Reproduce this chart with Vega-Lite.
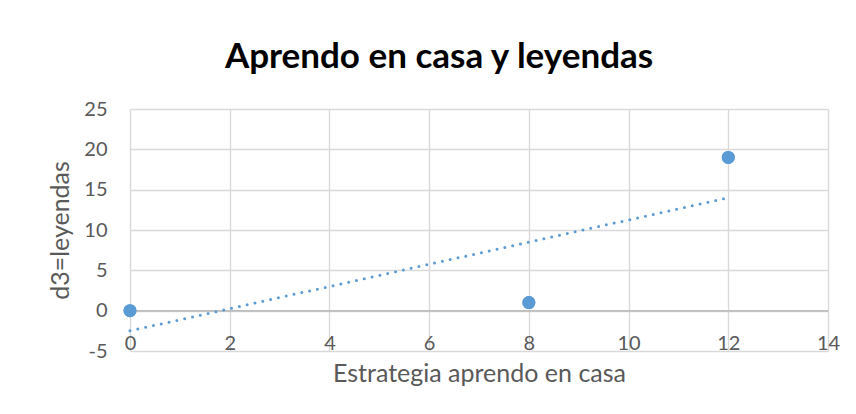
{
  "$schema": "https://vega.github.io/schema/vega-lite/v6.json",
  "width": 698,
  "height": 242,
  "autosize": {"type": "none"},
  "padding": {"left": 130, "top": 109, "right": 28, "bottom": 63},
  "background": "white",
  "config": {"view": {"stroke": null}},
  "title": {
    "text": "Aprendo en casa y leyendas",
    "font": "Lato",
    "fontSize": 35,
    "fontWeight": "bold",
    "color": "#000000",
    "anchor": "middle",
    "frame": "group",
    "dx": -40,
    "offset": -4,
    "baseline": "alphabetic"
  },
  "data": {
    "values": [
      {"estrategia": 0, "leyendas": 0},
      {"estrategia": 8, "leyendas": 1},
      {"estrategia": 12, "leyendas": 19}
    ]
  },
  "layer": [
    {
      "mark": {"type": "circle", "size": 170, "color": "#5B9BD5", "opacity": 1},
      "encoding": {
        "x": {
          "field": "estrategia",
          "type": "quantitative",
          "scale": {"domain": [0, 14], "nice": false, "zero": false},
          "axis": {
            "values": [0, 2, 4, 6, 8, 10, 12, 14],
            "grid": true,
            "gridColor": "#d9d9d9",
            "gridWidth": 1.4,
            "domain": false,
            "ticks": false,
            "labelFont": "Lato",
            "labelFontSize": 20,
            "labelColor": "#595959",
            "labelPadding": -2,
            "labelBaseline": "alphabetic",
            "labelFlush": false,
            "labelOverlap": false,
            "title": "Estrategia aprendo en casa",
            "titleFont": "Lato",
            "titleFontSize": 25,
            "titleFontWeight": "normal",
            "titleColor": "#595959",
            "titleY": 30,
            "titleBaseline": "alphabetic"
          }
        },
        "y": {
          "field": "leyendas",
          "type": "quantitative",
          "scale": {"domain": [-5, 25], "nice": false},
          "axis": {
            "values": [-5, 0, 5, 10, 15, 20, 25],
            "labelExpr": "'' + datum.value",
            "grid": true,
            "gridColor": "#d9d9d9",
            "gridWidth": 1.4,
            "domain": false,
            "ticks": false,
            "labelFont": "Lato",
            "labelFontSize": 20,
            "labelColor": "#595959",
            "labelPadding": 23,
            "labelFlush": false,
            "labelOverlap": false,
            "title": "d3=leyendas",
            "titleFont": "Lato",
            "titleFontSize": 25,
            "titleFontWeight": "normal",
            "titleColor": "#595959",
            "titleX": -70,
            "titleBaseline": "middle"
          }
        }
      }
    },
    {
      "mark": {"type": "rule", "color": "#bfbfbf", "strokeWidth": 1.5},
      "encoding": {"y": {"datum": 0, "type": "quantitative"}}
    },
    {
      "transform": [{"regression": "leyendas", "on": "estrategia"}],
      "mark": {"type": "line", "color": "#5B9BD5", "strokeWidth": 3, "strokeDash": [0, 8], "strokeCap": "round"},
      "encoding": {
        "x": {"field": "estrategia", "type": "quantitative"},
        "y": {"field": "leyendas", "type": "quantitative"}
      }
    },
    {
      "mark": {"type": "circle", "size": 170, "color": "#5B9BD5", "opacity": 1},
      "encoding": {
        "x": {"field": "estrategia", "type": "quantitative"},
        "y": {"field": "leyendas", "type": "quantitative"}
      }
    }
  ]
}
